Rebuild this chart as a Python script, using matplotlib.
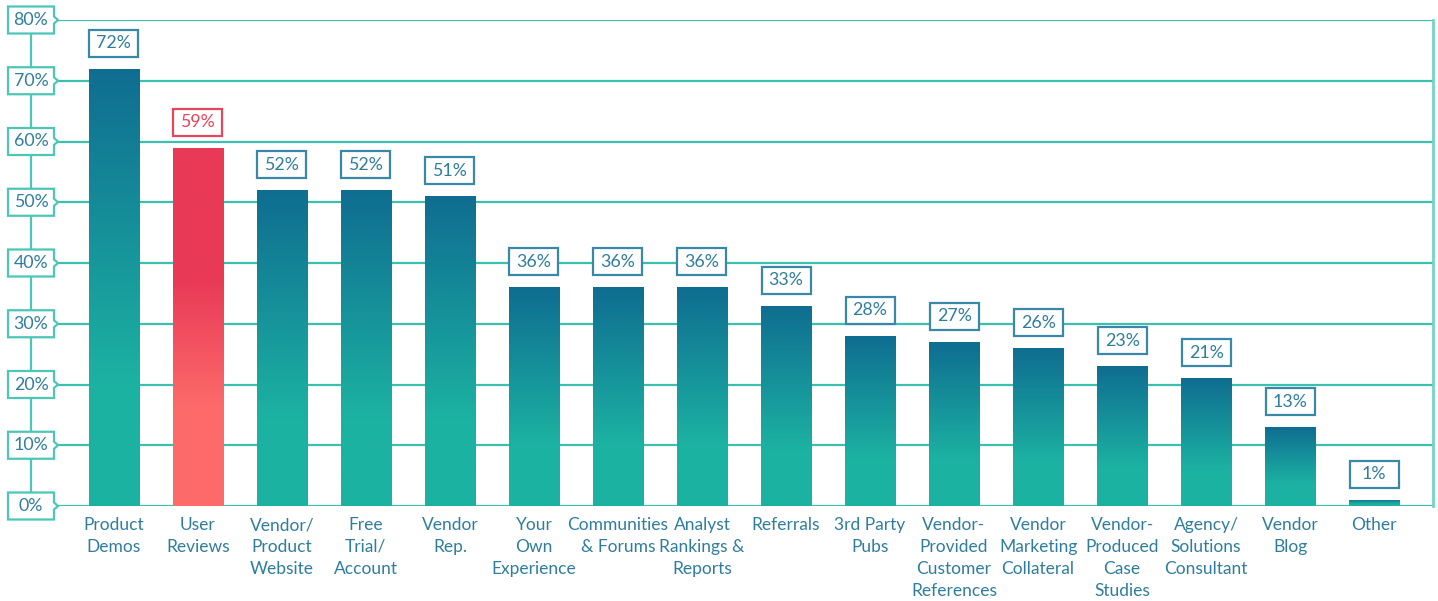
import numpy as np
import matplotlib
matplotlib.use("Agg")
import matplotlib.pyplot as plt
from matplotlib.patches import Rectangle, Polygon
from matplotlib.lines import Line2D
from matplotlib.transforms import IdentityTransform
from matplotlib.colors import LinearSegmentedColormap

plt.rcParams['font.family'] = ['Lato', 'DejaVu Sans']

# ---- data ----
categories = [
    "Product\nDemos", "User\nReviews", "Vendor/\nProduct\nWebsite",
    "Free\nTrial/\nAccount", "Vendor\nRep.", "Your\nOwn\nExperience",
    "Communities\n& Forums", "Analyst\nRankings &\nReports", "Referrals",
    "3rd Party\nPubs", "Vendor-\nProvided\nCustomer\nReferences",
    "Vendor\nMarketing\nCollateral", "Vendor-\nProduced\nCase\nStudies",
    "Agency/\nSolutions\nConsultant", "Vendor\nBlog", "Other",
]
values = [72, 59, 52, 52, 51, 36, 36, 36, 33, 28, 27, 26, 23, 21, 13, 1]
highlight = "User\nReviews"
y_ticks = [0, 10, 20, 30, 40, 50, 60, 70, 80]
y_tick_labels = [f"{t}%" for t in y_ticks]

# ---- style ----
TEXT_BLUE = "#2e7d9e"
BOX_BLUE = "#3a88a7"
GRID_TEAL = "#3dbfae"
AXIS_TEAL = "#4cc6b6"
RIGHT_TEAL = "#72d4c7"
RED_TEXT = "#e8445a"
teal_cmap = LinearSegmentedColormap.from_list(
    "teal", [(0.0, "#1cb2a2"), (0.28, "#1cb2a2"), (1.0, "#0f6d91")])
red_cmap = LinearSegmentedColormap.from_list(
    "red", [(0.0, "#fe6b6b"), (0.28, "#fc6a6a"), (0.62, "#e93b58"), (1.0, "#e83a57")])

W, H, DPI = 1438, 601, 100
fig = plt.figure(figsize=(W / DPI, H / DPI), dpi=DPI)
ax = fig.add_axes([55 / W, (H - 506) / H, (1433 - 55) / W, (506 - 20) / H])

x = np.arange(len(categories))
bar_w = 0.6

for t in y_ticks:
    ax.axhline(t, color=GRID_TEAL, lw=1.6, zorder=0)

bars = ax.bar(x, values, width=bar_w, color="none", edgecolor="none", zorder=2)
grad = np.linspace(0, 1, 256).reshape(-1, 1)
for cat, b in zip(categories, bars):
    cmap = red_cmap if cat == highlight else teal_cmap
    x0, h = b.get_x(), b.get_height()
    im = ax.imshow(grad, cmap=cmap, origin="lower", aspect="auto",
                   extent=[x0, x0 + b.get_width(), 0, h], zorder=2,
                   interpolation="bilinear")
    im.set_clip_path(b)

ax.set_xlim(-0.7, len(categories) - 0.3)
ax.set_ylim(0, 80)
for s in ["top", "left", "bottom"]:
    ax.spines[s].set_visible(False)
ax.spines["right"].set_color(RIGHT_TEAL)
ax.spines["right"].set_linewidth(2)
ax.set_yticks([])
ax.set_xticks(x)
ax.set_xticklabels(categories, fontsize=12.5, color=TEXT_BLUE, linespacing=1.45,
                   va="top")
ax.tick_params(axis="x", length=0, pad=8)

ident = IdentityTransform()

# y-axis: connector line and boxed labels pointing at the grid lines
y_px = [ax.transData.transform((0, t))[1] for t in y_ticks]
fig.add_artist(Line2D([31, 31], [min(y_px), max(y_px)], color=AXIS_TEAL, lw=1.6,
                      transform=ident, zorder=3))
for yc, lab in zip(y_px, y_tick_labels):
    pts = [(8, yc - 13.5), (54, yc - 13.5), (54, yc - 3.5), (58, yc),
           (54, yc + 3.5), (54, yc + 13.5), (8, yc + 13.5)]
    fig.add_artist(Polygon(pts, closed=True, facecolor="white", edgecolor=AXIS_TEAL,
                           lw=1.6, transform=ident, zorder=4))
    fig.text(31, yc, lab, transform=ident, ha="center", va="center",
             fontsize=12.8, color=TEXT_BLUE, zorder=5)

# value boxes above each bar
for cat, xi, v in zip(categories, x, values):
    cx, top = ax.transData.transform((xi, v))
    col_t = RED_TEXT if cat == highlight else TEXT_BLUE
    col_e = RED_TEXT if cat == highlight else BOX_BLUE
    bw, bh, gap = 49, 27, 12
    fig.add_artist(Rectangle((cx - bw / 2, top + gap), bw, bh, facecolor="white",
                             edgecolor=col_e, lw=1.6, transform=ident, zorder=4))
    fig.text(cx, top + gap + bh / 2, f"{v}%", transform=ident, ha="center",
             va="center", fontsize=12.8, color=col_t, zorder=5)

fig.savefig("out.png", dpi=DPI)
